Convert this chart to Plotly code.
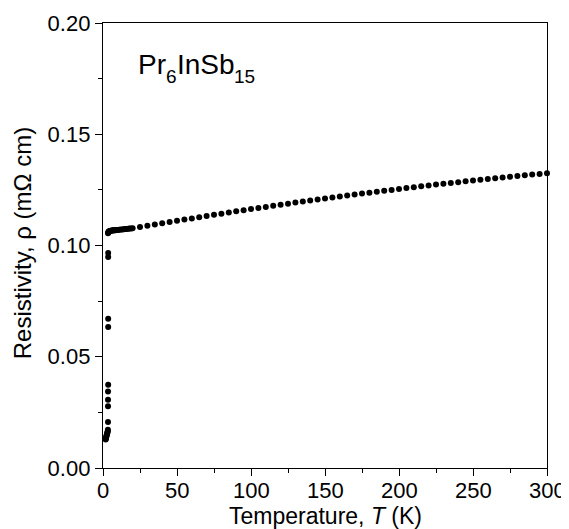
import plotly.graph_objects as go

# Low-temperature transition region (T in K, rho in mOhm cm)
T_low = [1.8, 1.9, 2.0, 2.2, 2.4, 2.6, 2.8, 3.0, 3.2, 3.3,
         3.4, 3.4, 3.4, 3.4, 3.5, 3.5, 3.5, 3.5, 3.5]
rho_low = [0.0128, 0.0131, 0.0135, 0.0140, 0.0145, 0.0150, 0.0155, 0.0160, 0.0165, 0.0172,
           0.0207, 0.0277, 0.0307, 0.0344, 0.0374, 0.0634, 0.0671, 0.0948, 0.0966]

# Normal-state branch, dense below 20 K
T_dense = [3.4, 3.6, 3.8, 4.0, 4.3, 4.6, 5.0, 5.5, 6.0, 6.5, 7.0, 7.5, 8.0, 8.5,
           9.0, 10.0, 11.0, 12.0, 13.0, 14.0, 15.0, 16.0, 17.0, 18.0, 19.0]
rho_dense = [0.1055, 0.1059, 0.1062, 0.1063, 0.1064, 0.1065, 0.1066, 0.1066, 0.1067,
             0.1067, 0.1068, 0.1068, 0.1069, 0.1069, 0.1070, 0.1070, 0.1071, 0.1072,
             0.1072, 0.1073, 0.1074, 0.1074, 0.1075, 0.1076, 0.1076]

T_high = [20, 25, 30, 35, 40, 45, 50, 55, 60, 65, 70, 75, 80, 85, 90, 95, 100,
          105, 110, 115, 120, 125, 130, 135, 140, 145, 150, 155, 160, 165, 170,
          175, 180, 185, 190, 195, 200, 205, 210, 215, 220, 225, 230, 235, 240,
          245, 250, 255, 260, 265, 270, 275, 280, 285, 290, 295, 300]
rho_high = [0.10770, 0.10828, 0.10885, 0.10942, 0.10998, 0.11054, 0.11109, 0.11164,
            0.11218, 0.11272, 0.11325, 0.11378, 0.11430, 0.11482, 0.11534, 0.11584,
            0.11635, 0.11685, 0.11734, 0.11783, 0.11831, 0.11879, 0.11927, 0.11974,
            0.12020, 0.12066, 0.12112, 0.12157, 0.12201, 0.12245, 0.12289, 0.12332,
            0.12375, 0.12417, 0.12458, 0.12499, 0.12540, 0.12580, 0.12620, 0.12659,
            0.12698, 0.12736, 0.12774, 0.12811, 0.12847, 0.12884, 0.12919, 0.12955,
            0.12989, 0.13024, 0.13058, 0.13091, 0.13124, 0.13156, 0.13188, 0.13219,
            0.13250]

x_ticks = [0, 50, 100, 150, 200, 250, 300]
x_tick_text = ["0", "50", "100", "150", "200", "250", "300"]
y_ticks = [0.00, 0.05, 0.10, 0.15, 0.20]
y_tick_text = ["0.00", "0.05", "0.10", "0.15", "0.20"]

T_all = T_low + T_dense + T_high
rho_all = rho_low + rho_dense + rho_high

fig = go.Figure()
fig.add_trace(go.Scatter(
    x=T_all, y=rho_all, mode="markers",
    marker=dict(color="black", size=6, line=dict(width=0)),
    showlegend=False, cliponaxis=False,
))

FAM = "Liberation Sans, Arial, sans-serif"
tick_font = dict(family=FAM, color="black", size=22)
title_font = dict(family=FAM, color="black", size=23)
main_font = dict(family=FAM, color="black", size=28)
sub_font = dict(family=FAM, color="black", size=19)

# The page body adds an 8 px margin, so the figure is drawn 8 px smaller and
# its margins shifted to land the plot frame at x 103-547, y 23-468.
fig.update_layout(
    width=561, height=521,
    margin=dict(l=95, r=22, t=15, b=61, autoexpand=False),
    paper_bgcolor="white", plot_bgcolor="white",
    font=dict(family=FAM, color="black", size=22),
    xaxis=dict(
        range=[0, 300], tickvals=x_ticks, ticks="outside", ticklen=7, tickwidth=1.3,
        tickcolor="black", showline=True, linecolor="black", linewidth=1.4,
        mirror=True, showgrid=False, zeroline=False, automargin=False,
        showticklabels=False,
        minor=dict(dtick=25, ticks="outside", ticklen=4, tickwidth=1.3,
                   tickcolor="black", showgrid=False),
    ),
    yaxis=dict(
        range=[0, 0.20], tickvals=y_ticks, ticktext=y_tick_text, ticks="outside",
        ticklen=7, tickwidth=1.3, tickcolor="black", showline=True, linecolor="black",
        linewidth=1.4, mirror=True, showgrid=False, zeroline=False, automargin=False,
        minor=dict(dtick=0.025, ticks="outside", ticklen=4, tickwidth=1.3,
                   tickcolor="black", showgrid=False),
        tickfont=tick_font,
    ),
)

# x tick labels placed at the axis' own tick values
for tv, tt in zip(x_ticks, x_tick_text):
    fig.add_annotation(x=tv, y=-0.0503, xref="x", yref="paper", xanchor="center",
                       yanchor="middle", text=tt, showarrow=False, font=tick_font,
                       borderpad=0, borderwidth=0)

label_parts = [
    ("Pr", 0.0788, 0.9071, main_font),
    ("6", 0.1419, 0.8793, sub_font),
    ("InSb", 0.1658, 0.9071, main_font),
    ("15", 0.2955, 0.8793, sub_font),
]
for txt, xp, yp, f in label_parts:
    fig.add_annotation(x=xp, y=yp, xref="paper", yref="paper", xanchor="left",
                       yanchor="middle", text=txt, showarrow=False, font=f,
                       borderpad=0, borderwidth=0)

fig.add_annotation(x=0.5, y=-0.107, xref="paper", yref="paper", xanchor="center",
                   yanchor="middle", text="Temperature, <i>T</i> (K)",
                   showarrow=False, font=title_font, borderpad=0)
fig.add_annotation(x=-0.1824, y=0.505, xref="paper", yref="paper", xanchor="center",
                   yanchor="middle", text="Resistivity, ρ (mΩ cm)", textangle=-90,
                   showarrow=False, font=dict(family=FAM, color="black", size=24))

fig.write_html("out.html")
